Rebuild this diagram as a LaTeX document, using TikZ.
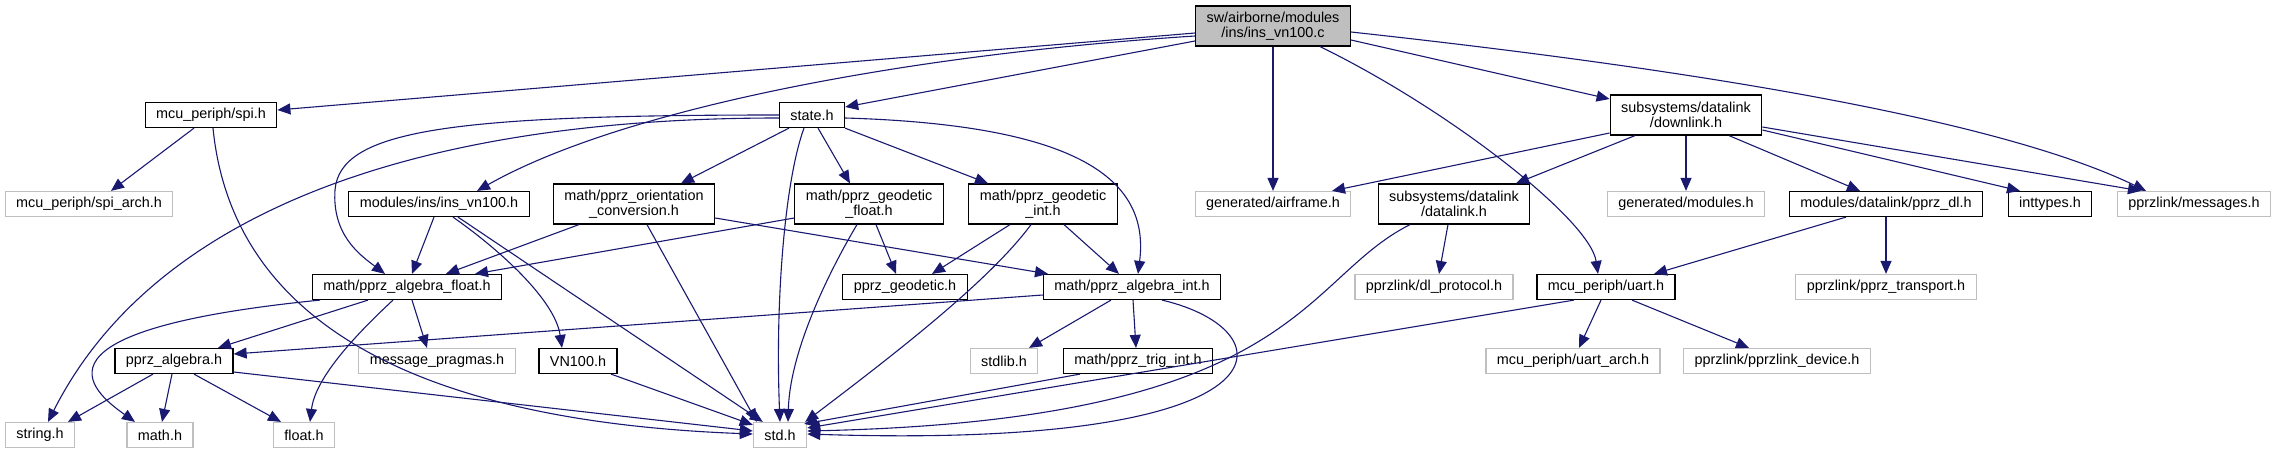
\documentclass[tikz,border=0pt]{standalone}
\usepackage{fontspec}
\setmainfont{Liberation Sans}
\usetikzlibrary{arrows.meta,calc}
\definecolor{nachtblau}{HTML}{191970}
\definecolor{hgrau}{HTML}{BFBFBF}
\tikzset{
  datei/.style={draw=black,fill=white,line width=0.6pt,inner xsep=5.5pt,inner ysep=1pt,
    minimum height=12.5pt,font=\fontsize{7.2pt}{7.6pt}\selectfont,align=center},
  fremd/.style={datei,draw=hgrau},
  wurzel/.style={datei,fill=hgrau},
  zwei/.style={minimum height=20pt},
  kante/.style={-{Triangle[length=6.5pt,width=5.5pt]},nachtblau,line width=0.55pt},
}

\begin{document}
\begin{tikzpicture}[x=0.5pt,y=-0.5pt]
  \useasboundingbox (0,0) rectangle (2276,455);
  % Zeile 1 und 2
  \node[wurzel,zwei] (main) at (1273,26) {sw/airborne/modules\\/ins/ins\_vn100.c};
  \node[datei] (spi) at (211,115) {mcu\_periph/spi.h};
  \node[datei] (state) at (812,115) {state.h};
  \node[datei,zwei] (downlink) at (1686,115) {subsystems/datalink\\/downlink.h};
  % Zeile 3
  \node[fremd] (spiarch) at (89,204) {mcu\_periph/spi\_arch.h};
  \node[datei] (insh) at (439,204) {modules/ins/ins\_vn100.h};
  \node[datei,zwei] (orient) at (634,204) {math/pprz\_orientation\\\_conversion.h};
  \node[datei,zwei] (geofloat) at (869,204) {math/pprz\_geodetic\\\_float.h};
  \node[datei,zwei] (geoint) at (1043,204) {math/pprz\_geodetic\\\_int.h};
  \node[fremd] (airframe) at (1273,204) {generated/airframe.h};
  \node[datei,zwei] (datalink) at (1454,204) {subsystems/datalink\\/datalink.h};
  \node[fremd] (modules) at (1686,204) {generated/modules.h};
  \node[datei] (pprzdl) at (1886,204) {modules/datalink/pprz\_dl.h};
  \node[datei] (inttypes) at (2050,204) {inttypes.h};
  \node[fremd] (messages) at (2194,204) {pprzlink/messages.h};
  % Zeile 4
  \node[datei] (algfloat) at (407,287) {math/pprz\_algebra\_float.h};
  \node[datei] (geodetic) at (905,287) {pprz\_geodetic.h};
  \node[datei] (algint) at (1132,287) {math/pprz\_algebra\_int.h};
  \node[fremd] (dlproto) at (1434,287) {pprzlink/dl\_protocol.h};
  \node[datei] (uart) at (1606,287) {mcu\_periph/uart.h};
  \node[fremd] (transport) at (1886,287) {pprzlink/pprz\_transport.h};
  % Zeile 5
  \node[datei] (algebra) at (174,361) {pprz\_algebra.h};
  \node[fremd] (pragmas) at (437,361) {message\_pragmas.h};
  \node[datei] (vn100) at (578,361) {VN100.h};
  \node[fremd] (stdlib) at (1004,361) {stdlib.h};
  \node[datei] (trigint) at (1138,361) {math/pprz\_trig\_int.h};
  \node[fremd] (uartarch) at (1573,361) {mcu\_periph/uart\_arch.h};
  \node[fremd] (device) at (1777,361) {pprzlink/pprzlink\_device.h};
  % Zeile 6
  \node[fremd] (string) at (40,435) {string.h};
  \node[fremd] (math) at (160,435) {math.h};
  \node[fremd] (float) at (304,435) {float.h};
  \node[fremd] (std) at (780,435) {std.h};

  % von ins_vn100.c
  \draw[kante] ($(main.west)+(0,7)$) -- ($(spi.east)+(0,-5)$);
  \draw[kante] ($(main.west)+(0,10)$) .. controls (900,55) and (620,110) .. ($(insh.north)+(38,0)$);
  \draw[kante] ($(main.west)+(0,15)$) -- ($(state.east)+(0,-8)$);
  \draw[kante] (main) -- (airframe);
  \draw[kante] ($(main.south)+(47,0)$) .. controls (1450,110) and (1590,220) .. ($(uart.north)+(-8,0)$);
  \draw[kante] ($(main.east)+(0,14)$) -- ($(downlink.west)+(0,-16)$);
  \draw[kante] ($(main.east)+(0,6)$) .. controls (1700,70) and (2000,120) .. ($(messages.north)+(-48,0)$);
  % state.h
  \draw[kante] ($(state.west)+(0,3)$) .. controls (400,118) and (150,220) .. ($(string.north)+(8,0)$);
  \draw[kante] (state.west) .. controls (450,115) and (340,130) .. (335,190)
    .. controls (332,235) and (360,255) .. ($(algfloat.north)+(-22,0)$);
  \draw[kante] ($(state.south)+(-23,0)$) -- ($(orient.north)+(47,0)$);
  \draw[kante] ($(state.south)+(-8,0)$) .. controls (785,180) and (775,300) .. ($(std.north)+(0,0)$);
  \draw[kante] ($(state.south)+(6,0)$) -- ($(geofloat.north)+(-19,0)$);
  \draw[kante] ($(state.south)+(33,0)$) -- ($(geoint.north)+(-55,0)$);
  \draw[kante] ($(state.east)+(0,3)$) .. controls (1080,125) and (1150,180) .. ($(algint.north)+(6,0)$);
  % spi.h
  \draw[kante] ($(spi.south)+(-17,0)$) -- ($(spiarch.north)+(22,0)$);
  \draw[kante] ($(spi.south)+(2,0)$) .. controls (230,300) and (380,420) .. ($(std.west)+(0,-1)$);
  % ins_vn100.h
  \draw[kante] ($(insh.south)+(-5,0)$) -- ($(algfloat.north)+(5,0)$);
  \draw[kante] ($(insh.south)+(14,0)$) .. controls (500,250) and (555,300) .. ($(vn100.north)+(-16,0)$);
  \draw[kante] ($(insh.south)+(19,0)$) -- ($(std.north west)+(10,0)$);
  % orientation_conversion.h
  \draw[kante] ($(orient.south)+(-55,0)$) -- ($(algfloat.north)+(39,0)$);
  \draw[kante] ($(orient.south)+(13,0)$) -- ($(std.north west)+(4,0)$);
  \draw[kante] ($(orient.east)+(0,14)$) -- ($(algint.north)+(-84,0)$);
  % geodetic_float.h
  \draw[kante] ($(geofloat.west)+(0,14)$) -- ($(algfloat.north)+(68,0)$);
  \draw[kante] ($(geofloat.south)+(7,0)$) -- ($(geodetic.north)+(-9,0)$);
  \draw[kante] ($(geofloat.south)+(-12,0)$) .. controls (830,270) and (790,350) .. ($(std.north)+(8,0)$);
  % geodetic_int.h
  \draw[kante] ($(geoint.south)+(-33,0)$) -- ($(geodetic.north)+(27,0)$);
  \draw[kante] ($(geoint.south)+(-12,0)$) .. controls (990,280) and (900,350) .. ($(std.north east)+(-2,0)$);
  \draw[kante] ($(geoint.south)+(21,0)$) -- ($(algint.north)+(-13,0)$);
  % pprz_algebra_float.h
  \draw[kante] ($(algfloat.south)+(-87,0)$) .. controls (20,330) and (90,390) .. ($(math.north)+(-25,0)$);
  \draw[kante] ($(algfloat.south)+(-39,0)$) -- ($(algebra.north)+(44,0)$);
  \draw[kante] ($(algfloat.south)+(-14,0)$) .. controls (350,340) and (315,380) .. ($(float.north)+(6,0)$);
  \draw[kante] ($(algfloat.south)+(5,0)$) -- ($(pragmas.north)+(-10,0)$);
  % pprz_algebra.h
  \draw[kante] ($(algebra.south)+(-21,0)$) -- ($(string.north)+(28,0)$);
  \draw[kante] ($(algebra.south)+(-2,0)$) -- ($(math.north)+(2,0)$);
  \draw[kante] ($(algebra.south)+(20,0)$) -- ($(float.north)+(-23,0)$);
  \draw[kante] ($(algebra.east)+(0,11)$) -- ($(std.west)+(0,-4)$);
  \draw[kante] ($(vn100.south)+(33,0)$) -- ($(std.north west)+(0,3)$);
  % pprz_algebra_int.h
  \draw[kante] ($(algint.west)+(0,8)$) -- ($(algebra.east)+(0,-7)$);
  \draw[kante] ($(algint.south)+(-21,0)$) -- ($(stdlib.north)+(25,0)$);
  \draw[kante] ($(algint.south)+(1,0)$) -- ($(trigint.north)+(-2,0)$);
  \draw[kante] ($(algint.south)+(30,0)$) .. controls (1290,330) and (1300,450) .. ($(std.east)+(0,-1)$);
  \draw[kante] ($(trigint.south)+(-58,0)$) -- ($(std.north east)+(-3,2)$);
  % datalink
  \draw[kante] ($(datalink.south)+(-6,0)$) -- ($(dlproto.north)+(5,0)$);
  \draw[kante] ($(datalink.south)+(-44,0)$) .. controls (1300,280) and (1300,420) .. ($(std.east)+(0,-4)$);
  \draw[kante] ($(downlink.west)+(0,18)$) -- ($(airframe.north)+(59,0)$);
  \draw[kante] ($(downlink.south)+(-51,0)$) -- ($(datalink.north)+(62,0)$);
  \draw[kante] (downlink) -- (modules);
  \draw[kante] ($(downlink.south)+(43,0)$) -- ($(pprzdl.north)+(-26,0)$);
  \draw[kante] ($(downlink.east)+(0,15)$) -- ($(inttypes.north)+(-30,0)$);
  \draw[kante] ($(downlink.east)+(0,12)$) -- ($(messages.north)+(-53,0)$);
  \draw[kante] ($(pprzdl.south)+(-40,0)$) -- ($(uart.north)+(48,0)$);
  \draw[kante] (pprzdl) -- (transport);
  % uart.h
  \draw[kante] ($(uart.south)+(-32,0)$) -- ($(std.east)+(0,-7)$);
  \draw[kante] ($(uart.south)+(-5,0)$) -- ($(uartarch.north)+(6,0)$);
  \draw[kante] ($(uart.south)+(26,0)$) -- ($(device.north)+(-28,0)$);
\end{tikzpicture}
\end{document}
